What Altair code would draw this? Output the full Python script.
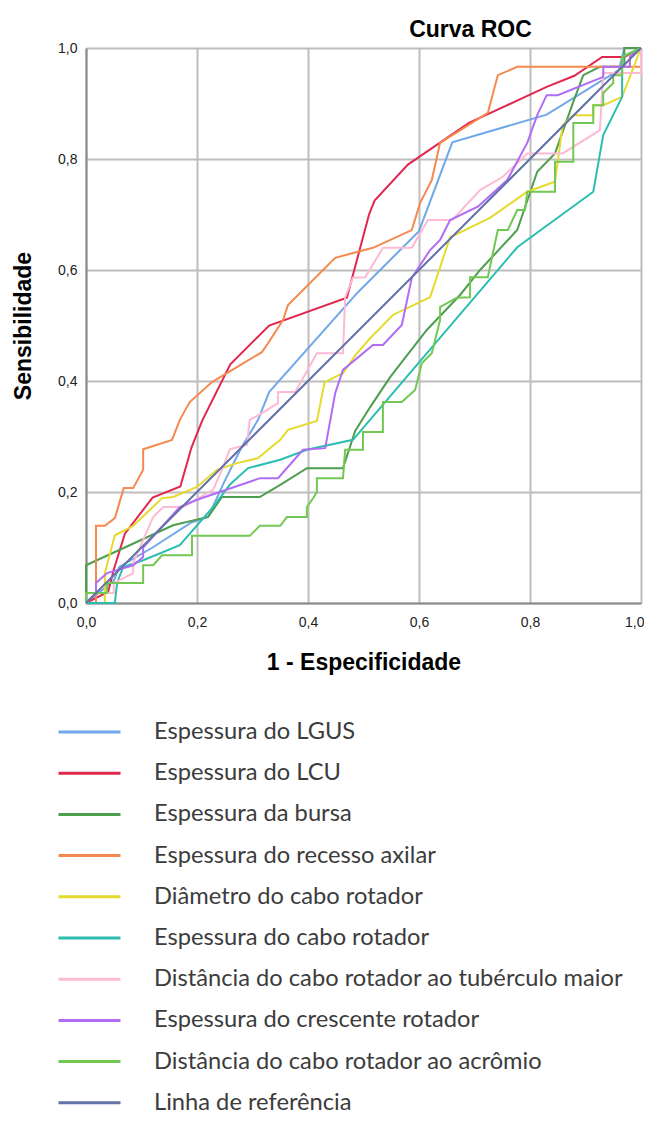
import altair as alt
import pandas as pd

names = [
    "Espessura do LGUS",
    "Espessura do LCU",
    "Espessura da bursa",
    "Espessura do recesso axilar",
    "Diâmetro do cabo rotador",
    "Espessura do cabo rotador",
    "Distância do cabo rotador ao tubérculo maior",
    "Espessura do crescente rotador",
    "Distância do cabo rotador ao acrômio",
    "Linha de referência",
]
colors = ["#70a8ea", "#e0284f", "#4e9e50", "#f5894e", "#e5db2e",
          "#2bbeb0", "#fdbad3", "#b16cf6", "#72c852", "#6272a8"]

lgus = [(0, 0), (0.05, 0.04), (0.06, 0.065), (0.12, 0.10), (0.19, 0.145), (0.22, 0.155),
        (0.25, 0.22), (0.28, 0.28), (0.31, 0.33), (0.33, 0.38), (0.49, 0.56), (0.60, 0.67),
        (0.66, 0.83), (0.83, 0.88), (0.96, 0.96), (0.97, 1.0), (1.0, 1.0)]
lcu = [(0, 0), (0.04, 0.02), (0.05, 0.06), (0.07, 0.125), (0.12, 0.19), (0.17, 0.21),
       (0.19, 0.28), (0.21, 0.33), (0.26, 0.43), (0.33, 0.50), (0.47, 0.55), (0.51, 0.70),
       (0.52, 0.725), (0.58, 0.79), (0.69, 0.865), (0.83, 0.93), (0.88, 0.95), (0.93, 0.984),
       (0.97, 0.984), (1.0, 1.0)]
bursa = [(0, 0), (0, 0.068), (0.157, 0.14), (0.22, 0.155), (0.245, 0.191), (0.313, 0.191),
         (0.35, 0.213), (0.398, 0.243), (0.463, 0.243), (0.485, 0.31), (0.512, 0.353),
         (0.548, 0.407), (0.614, 0.492), (0.674, 0.555), (0.71, 0.6), (0.777, 0.672),
         (0.813, 0.777), (0.845, 0.81), (0.878, 0.903), (0.896, 0.951), (0.926, 0.966),
         (0.97, 0.966), (0.97, 1.0), (1.0, 1.0)]
recesso = [(0, 0), (0.018, 0), (0.018, 0.139), (0.034, 0.139), (0.052, 0.153), (0.068, 0.207),
           (0.085, 0.207), (0.103, 0.24), (0.103, 0.277), (0.155, 0.294), (0.169, 0.33),
           (0.187, 0.362), (0.227, 0.398), (0.317, 0.452), (0.328, 0.468), (0.355, 0.51),
           (0.364, 0.537), (0.449, 0.622), (0.517, 0.64), (0.587, 0.672), (0.602, 0.721),
           (0.623, 0.762), (0.638, 0.829), (0.724, 0.883), (0.742, 0.951), (0.777, 0.966),
           (1.0, 0.966), (1.0, 1.0)]
diametro = [(0, 0), (0.034, 0), (0.034, 0.054), (0.052, 0.122), (0.085, 0.139), (0.137, 0.189),
            (0.157, 0.191), (0.2, 0.209), (0.236, 0.24), (0.272, 0.252), (0.31, 0.261),
            (0.35, 0.294), (0.364, 0.312), (0.416, 0.328), (0.43, 0.398), (0.463, 0.414),
            (0.488, 0.45), (0.512, 0.477), (0.553, 0.519), (0.62, 0.551), (0.656, 0.659),
            (0.728, 0.694), (0.795, 0.741), (0.845, 0.759), (0.859, 0.861), (0.878, 0.879),
            (0.914, 0.879), (0.914, 0.897), (0.932, 0.897), (0.966, 0.912), (1.0, 1.0)]
cabo = [(0, 0), (0.052, 0), (0.056, 0.036), (0.067, 0.065), (0.103, 0.077), (0.169, 0.104),
        (0.229, 0.173), (0.259, 0.213), (0.292, 0.243), (0.35, 0.258), (0.398, 0.276),
        (0.481, 0.294), (0.777, 0.641), (0.914, 0.741), (0.932, 0.843), (0.966, 0.912),
        (0.966, 0.984), (1.0, 1.0)]
tuberculo = [(0, 0), (0.018, 0.018), (0.05, 0.018), (0.05, 0.036), (0.085, 0.054), (0.085, 0.072),
             (0.121, 0.155), (0.139, 0.173), (0.175, 0.173), (0.229, 0.204), (0.247, 0.245),
             (0.259, 0.277), (0.29, 0.285), (0.295, 0.33), (0.317, 0.342), (0.346, 0.36),
             (0.346, 0.38), (0.377, 0.38), (0.416, 0.45), (0.463, 0.45), (0.467, 0.551),
             (0.481, 0.586), (0.503, 0.587), (0.535, 0.64), (0.587, 0.64), (0.616, 0.69),
             (0.66, 0.69), (0.71, 0.744), (0.751, 0.768), (0.795, 0.81), (0.859, 0.81),
             (0.926, 0.852), (0.932, 0.955), (1.0, 0.955), (1.0, 1.0)]
crescente = [(0, 0), (0.018, 0.018), (0.018, 0.036), (0.038, 0.054), (0.085, 0.068),
             (0.103, 0.083), (0.103, 0.1), (0.169, 0.173), (0.2, 0.186), (0.241, 0.2),
             (0.314, 0.225), (0.346, 0.225), (0.391, 0.276), (0.431, 0.279), (0.449, 0.378),
             (0.463, 0.42), (0.517, 0.465), (0.535, 0.465), (0.569, 0.501), (0.587, 0.586),
             (0.62, 0.636), (0.638, 0.654), (0.656, 0.69), (0.706, 0.714), (0.759, 0.762),
             (0.795, 0.829), (0.813, 0.879), (0.83, 0.915), (0.85, 0.915), (0.932, 0.948),
             (0.932, 0.966), (0.98, 0.966), (0.98, 0.984), (1.0, 1.0)]
acromio = [(0, 0), (0, 0.018), (0.038, 0.018), (0.038, 0.036), (0.103, 0.036), (0.103, 0.068),
           (0.121, 0.068), (0.137, 0.086), (0.191, 0.086), (0.191, 0.121), (0.295, 0.121),
           (0.313, 0.139), (0.35, 0.139), (0.362, 0.155), (0.398, 0.155), (0.398, 0.173),
           (0.41, 0.19), (0.416, 0.2), (0.416, 0.225), (0.463, 0.225), (0.467, 0.276),
           (0.499, 0.276), (0.499, 0.308), (0.535, 0.308), (0.535, 0.362), (0.569, 0.362),
           (0.593, 0.384), (0.605, 0.432), (0.623, 0.45), (0.638, 0.51), (0.638, 0.533),
           (0.668, 0.55), (0.692, 0.551), (0.692, 0.587), (0.724, 0.587), (0.742, 0.672),
           (0.76, 0.672), (0.777, 0.708), (0.791, 0.708), (0.795, 0.741), (0.845, 0.741),
           (0.845, 0.795), (0.878, 0.795), (0.878, 0.865), (0.914, 0.865), (0.914, 0.897),
           (0.932, 0.897), (0.932, 0.919), (0.95, 0.937), (0.95, 0.951), (0.966, 0.951),
           (0.966, 0.984), (1.0, 1.0)]
referencia = [(0, 0), (1.0, 1.0)]

series_points = [lgus, lcu, bursa, recesso, diametro, cabo, tuberculo, crescente, acromio, referencia]
tick_values = [0, 0.2, 0.4, 0.6, 0.8, 1.0]

rows = []
for name, pts in zip(names, series_points):
    for i, (fx, ty) in enumerate(pts):
        rows.append({"serie": name, "ordem": i, "fpr": fx, "tpr": ty})
df = pd.DataFrame(rows)

label_expr = "replace(format(datum.value, '.1f'), '.', ',')"

chart = alt.Chart(df).mark_line(strokeWidth=2).encode(
    x=alt.X("fpr:Q", title="1 - Especificidade",
            scale=alt.Scale(domain=[0, 1], nice=False, zero=False),
            axis=alt.Axis(values=tick_values, labelExpr=label_expr, labelPadding=12,
                          labelFlush=False, titlePadding=22,
                          labelAlign={"condition": {"test": "datum.value >= 1", "value": "right"},
                                      "value": "center"},
                          labelOffset={"condition": {"test": "datum.value >= 1", "value": 3},
                                       "value": 0})),
    y=alt.Y("tpr:Q", title="Sensibilidade",
            scale=alt.Scale(domain=[0, 1], nice=False, zero=False),
            axis=alt.Axis(values=tick_values, labelExpr=label_expr, labelPadding=9,
                          labelFlush=False, titlePadding=22)),
    color=alt.Color("serie:N", scale=alt.Scale(domain=names, range=colors),
                    legend=alt.Legend(title=None, orient="none", legendX=-29, legendY=672,
                                      symbolType="stroke", symbolSize=3844,
                                      symbolStrokeWidth=3, clipHeight=24, rowPadding=17.2,
                                      labelOffset=32, labelFont="Lato", labelFontSize=23.7,
                                      labelColor="#3c3c3c", labelLimit=0, padding=0)),
    order=alt.Order("ordem:Q"),
).properties(
    width=555, height=555,
    title=alt.TitleParams("Curva ROC", font="Liberation Sans", fontSize=23,
                          fontWeight="bold", color="#000000", dx=107, dy=5, offset=4,
                          anchor="middle"),
    autosize=alt.AutoSizeParams(type="none"),
    padding={"left": 78, "top": 40, "right": 3, "bottom": 515},
).configure_view(stroke=None).configure_axis(
    gridColor="#bdbdbd", gridWidth=2, domainColor="#8a8a8a", domainWidth=2,
    ticks=False, labelFont="Liberation Sans", labelFontSize=14, labelColor="#222222",
    titleFont="Liberation Sans", titleFontSize=23, titleFontWeight="bold",
    titleColor="#000000",
)

chart.save("out.html", embed_options={"renderer": "svg", "actions": False})
